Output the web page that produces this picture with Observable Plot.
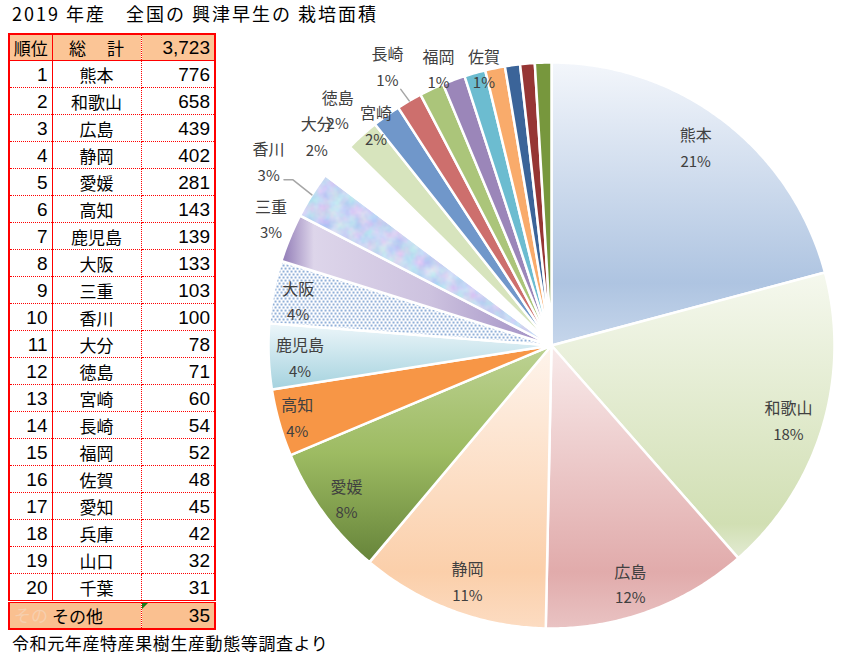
<!DOCTYPE html>
<html>
<head>
<meta charset="utf-8">
<script src="https://cdn.jsdelivr.net/npm/d3@7"></script>
<script src="https://cdn.jsdelivr.net/npm/@observablehq/plot@0.6"></script>
<style>
  body { margin: 0; background: #fff; }
  #page { position: relative; width: 844px; height: 660px; overflow: hidden; font-family: "Noto Sans CJK JP", sans-serif; color: #000; }
  #title { position: absolute; left: 12px; top: 0px; font-size: 18px; letter-spacing: 2px; white-space: pre; line-height: 26px; }
  #caption { position: absolute; left: 12px; top: 630px; font-size: 17px; letter-spacing: 0.6px; white-space: pre; line-height: 26px; }
  #pie { position: absolute; left: 230px; top: 30px; }
  #tbl { position: absolute; left: 8px; top: 33px; border-collapse: collapse; table-layout: fixed; border: 2px solid #ff0000; }
  #tbl td { padding: 0; border-bottom: 1px dotted #ff0000; line-height: 1; white-space: nowrap; overflow: hidden; }
  #tbl td.rk { text-align: right; padding-right: 4px; border-right: 1px solid #ff0000; font-family: "Liberation Sans", sans-serif; font-size: 19px; }
  #tbl td.nm { text-align: center; border-right: 1px dotted #ff0000; font-size: 17px; }
  #tbl td.vl { text-align: right; padding-right: 4px; font-family: "Liberation Sans", sans-serif; font-size: 19px; position: relative; }
  #tbl tr.hd td { background: #fbc596; border-bottom: 1px solid #ff0000; height: 25px; }
  #tbl tr.hd td.rk { text-align: center; padding-right: 0; font-family: "Noto Sans CJK JP", sans-serif; font-size: 17px; }
  #tbl tr.dt td { height: 26px; }
  #tbl tr.ot td { background: #fac090; height: 25px; border-top: 3px double #ff0000; border-bottom: none; }
  #tbl tr.ot td.rk { border-right: none; text-align: left; padding-left: 4px; }
  #tbl tr.ot td.nm { text-align: left; padding-left: 0px; }
  .ghost { color: #f6cfae; font-family: "Noto Sans CJK JP", sans-serif; font-size: 17px; }
  .tri { position: absolute; left: 0; top: 0; width: 0; height: 0; border-top: 6px solid #1a7a1a; border-right: 6px solid transparent; }
</style>
</head>
<body>
<svg width="0" height="0" style="position:absolute">
  <defs>
    <linearGradient id="gKumamoto" x1="0" y1="0" x2="0" y2="1">
      <stop offset="0" stop-color="#f3f6fb"/><stop offset="0.78" stop-color="#aec4e1"/><stop offset="1" stop-color="#c6d6eb"/>
    </linearGradient>
    <linearGradient id="gWakayama" x1="0" y1="0" x2="0" y2="1">
      <stop offset="0" stop-color="#f5f8ee"/><stop offset="0.88" stop-color="#d1dfb3"/><stop offset="1" stop-color="#e3ebd3"/>
    </linearGradient>
    <linearGradient id="gHiroshima" x1="0" y1="0" x2="0" y2="1">
      <stop offset="0" stop-color="#f8eaea"/><stop offset="0.8" stop-color="#e1abab"/><stop offset="1" stop-color="#e9c3c3"/>
    </linearGradient>
    <linearGradient id="gShizuoka" x1="0" y1="0" x2="0" y2="1">
      <stop offset="0" stop-color="#fef4ec"/><stop offset="0.8" stop-color="#fbcfaa"/><stop offset="1" stop-color="#fcdcc2"/>
    </linearGradient>
    <linearGradient id="gEhime" x1="0" y1="0" x2="0" y2="1">
      <stop offset="0" stop-color="#bdd293"/><stop offset="0.5" stop-color="#9dbb62"/><stop offset="1" stop-color="#66843a"/>
    </linearGradient>
    <linearGradient id="gKagoshima" x1="0" y1="0" x2="0" y2="1">
      <stop offset="0" stop-color="#edf6fa"/><stop offset="1" stop-color="#a4d2de"/>
    </linearGradient>
    <linearGradient id="gMie" x1="0" y1="0" x2="1" y2="0">
      <stop offset="0" stop-color="#8f79b5"/><stop offset="0.12" stop-color="#ddd5ea"/><stop offset="0.55" stop-color="#cdc2df"/><stop offset="1" stop-color="#9e8cc2"/>
    </linearGradient>
    <pattern id="pOsaka" patternUnits="userSpaceOnUse" width="4" height="6">
      <rect width="4" height="6" fill="#ffffff"/>
      <rect x="0.3" y="0.3" width="1.5" height="1.5" fill="#3b72ba"/>
      <rect x="2.3" y="3.3" width="1.5" height="1.5" fill="#3b72ba"/>
    </pattern>
    <filter id="fMottle" x="0" y="0" width="1" height="1" color-interpolation-filters="sRGB">
      <feTurbulence type="fractalNoise" baseFrequency="0.08" numOctaves="3" seed="7" result="n"/>
      <feColorMatrix in="n" type="matrix" values="0.32 0 0 0 0.63  0 0.22 0 0 0.73  0 0 0.08 0 0.91  0 0 0 0 1"/>
    </filter>
    <pattern id="pKagawa" patternUnits="userSpaceOnUse" width="400" height="400">
      <rect width="400" height="400" fill="#c6d6f6" filter="url(#fMottle)"/>
    </pattern>
  </defs>
</svg>
<div id="page">
  <div id="title">2019 年産　全国の 興津早生の 栽培面積</div>
  <table id="tbl"></table>
  <div id="pie"></div>
  <div id="caption">令和元年産特産果樹生産動態等調査より</div>
</div>
<script>
// ---- data ----
const prefectures = ["熊本","和歌山","広島","静岡","愛媛","高知","鹿児島","大阪","三重","香川","大分","徳島","宮崎","長崎","福岡","佐賀","愛知","兵庫","山口","千葉"];
const areas = [776,658,439,402,281,143,139,133,103,100,78,71,60,54,52,48,45,42,32,31];
const otherName = "その他";
const otherArea = 35;
const totalArea = 3723;
const headerLabels = ["順位", "総　 計"];

// ---- styles / layout ----
const sliceFills = ["url(#gKumamoto)","url(#gWakayama)","url(#gHiroshima)","url(#gShizuoka)","url(#gEhime)","#f79646","url(#gKagoshima)","url(#pOsaka)","url(#gMie)","url(#pKagawa)","#ffffff","#d7e4bd","#7097ca","#cd6f6d","#abc57a","#9b86b9","#6cbcd0","#f9ab6b","#3b6499","#963634","#77973d"];
const labelLayout = [[-1.3,0.862],[1.1,0.88],[1.9,0.893],[-1.1,0.89],[-0.7,0.908],[-0.3,0.935],[-0.9,0.89],[-1.3,0.908],[1.7,1.085],[0.7,1.19],[0.7,1.107],[-0.4,1.12],[-3.1,0.99],[-0.4,1.14],[2.7,1.05],[6.4,1.0]];
const leaderLayout = [{i: 9, pts: [[0,1.0],[0.5,1.085]], tail: -9}, {i: 13, pts: [[0,1.0],[-0.3,1.05]], tail: 0}];
const R = 283, W = 614, H = 620, cx = 321, cy = 315;

// ---- table ----
const tbl = document.getElementById("tbl");
const fmt = d3.format(",");
let html = `<colgroup><col style="width:41px"><col style="width:89px"><col style="width:74px"></colgroup>`;
html += `<tr class="hd"><td class="rk">${headerLabels[0]}</td><td class="nm">${headerLabels[1]}</td><td class="vl">${fmt(totalArea)}</td></tr>`;
prefectures.forEach((p, i) => {
  html += `<tr class="dt"><td class="rk">${i + 1}</td><td class="nm">${p}</td><td class="vl">${fmt(areas[i])}</td></tr>`;
});
html += `<tr class="ot"><td class="rk"><span class="ghost">その</span></td><td class="nm">${otherName}</td><td class="vl"><div class="tri"></div>${fmt(otherArea)}</td></tr>`;
tbl.innerHTML = html;

// ---- pie ----
const names = prefectures.concat([otherName]);
const values = areas.concat([otherArea]);
const sum = d3.sum(values);
const arcs = d3.pie().sort(null).value(d => d)(values);
const deg = Math.PI / 180;

const slicePts = [];
arcs.forEach((a, i) => {
  const n = Math.max(2, Math.ceil((a.endAngle - a.startAngle) / (0.5 * deg)));
  slicePts.push({k: i, x: 0, y: 0, fill: sliceFills[i]});
  for (let j = 0; j <= n; j++) {
    const t = a.startAngle + (a.endAngle - a.startAngle) * j / n;
    slicePts.push({k: i, x: Math.sin(t), y: Math.cos(t), fill: sliceFills[i]});
  }
});

const labels = labelLayout.map(([dA, rf], i) => {
  const a = arcs[i];
  const t = (a.startAngle + a.endAngle) / 2 + dA * deg;
  return {x: rf * Math.sin(t), y: rf * Math.cos(t), name: names[i], pct: Math.round(values[i] / sum * 100) + "%"};
});

const leaderPts = [];
leaderLayout.forEach(({i, pts, tail}) => {
  const a = arcs[i];
  const mid = (a.startAngle + a.endAngle) / 2;
  let last;
  pts.forEach(([dA, rf]) => {
    const t = mid + dA * deg;
    last = {k: i, x: rf * Math.sin(t), y: rf * Math.cos(t)};
    leaderPts.push(last);
  });
  if (tail) leaderPts.push({k: i, x: last.x + tail / R, y: last.y});
});

const chart = Plot.plot({
  width: W, height: H, margin: 0,
  x: {domain: [-1, 1], range: [cx - R, cx + R], axis: null},
  y: {domain: [-1, 1], range: [cy + R, cy - R], axis: null},
  color: {type: "identity"},
  style: {background: "transparent", fontFamily: "'Noto Sans CJK JP', sans-serif", overflow: "visible"},
  marks: [
    Plot.line(slicePts, {x: "x", y: "y", z: "k", fill: "fill", stroke: "#ffffff", strokeWidth: 2.5, strokeLinejoin: "round", curve: "linear-closed"}),
    Plot.line(leaderPts, {x: "x", y: "y", z: "k", stroke: "#a6a6a6", strokeWidth: 1.5}),
    Plot.text(labels, {x: "x", y: "y", text: "name", dy: -13, fontSize: 16, fill: "#404040"}),
    Plot.text(labels, {x: "x", y: "y", text: "pct", dy: 13, fontSize: 15, fill: "#404040"})
  ]
});
document.getElementById("pie").appendChild(chart);
</script>
</body>
</html>
